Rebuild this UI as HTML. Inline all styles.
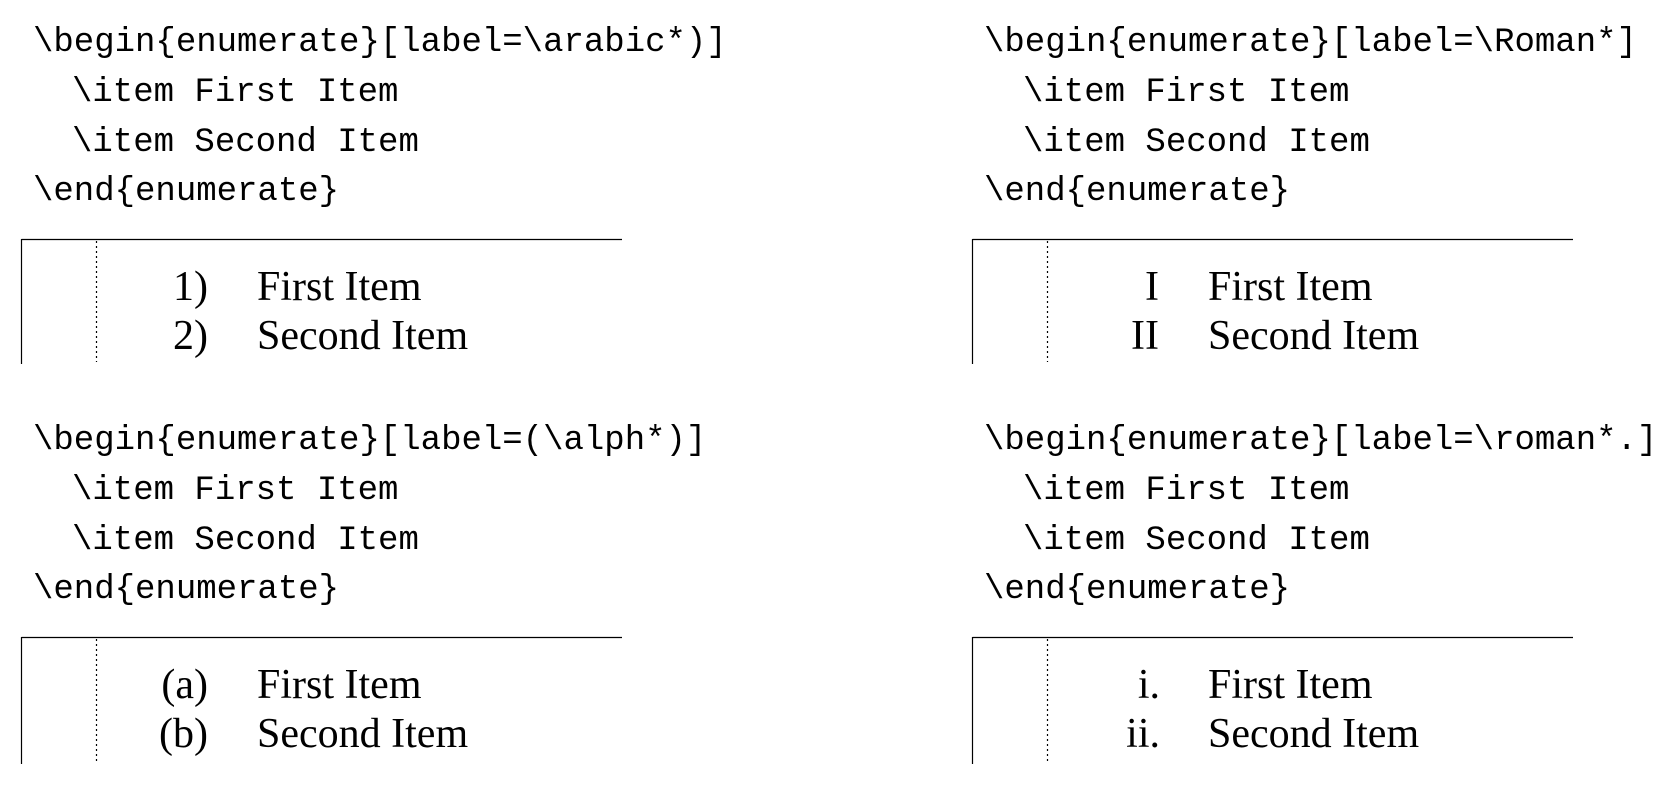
<!DOCTYPE html>
<html><head><meta charset="utf-8"><style>
html,body{margin:0;padding:0;background:#fff;width:1668px;height:788px;overflow:hidden}
svg{display:block}
.m{font-family:"Liberation Mono",monospace;font-size:34px;fill:#000}
.s{font-family:"Liberation Serif",serif;font-size:42px;fill:#000}
</style></head><body>
<svg width="1668" height="788" xmlns="http://www.w3.org/2000/svg">
<g id="q1">
<text class="m" x="33" y="51">\begin{enumerate}[label=\arabic*)]</text>
<text class="m" x="72" y="101">\item First Item</text>
<text class="m" x="72" y="151">\item Second Item</text>
<text class="m" x="33" y="200">\end{enumerate}</text>
<line x1="21.5" y1="239.5" x2="622" y2="239.5" stroke="#000" stroke-width="1.2"/>
<line x1="21.5" y1="239" x2="21.5" y2="364" stroke="#000" stroke-width="1.2"/>
<line x1="96.5" y1="241" x2="96.5" y2="362" stroke="#000" stroke-width="1.2" stroke-dasharray="2,3"/>
<text class="s" x="208" y="300" text-anchor="end">1)</text>
<text class="s" x="257" y="300">First Item</text>
<text class="s" x="208" y="349" text-anchor="end">2)</text>
<text class="s" x="257" y="349">Second Item</text>
</g>
<g transform="translate(951,0)">
<text class="m" x="33" y="51">\begin{enumerate}[label=\Roman*]</text>
<text class="m" x="72" y="101">\item First Item</text>
<text class="m" x="72" y="151">\item Second Item</text>
<text class="m" x="33" y="200">\end{enumerate}</text>
<line x1="21.5" y1="239.5" x2="622" y2="239.5" stroke="#000" stroke-width="1.2"/>
<line x1="21.5" y1="239" x2="21.5" y2="364" stroke="#000" stroke-width="1.2"/>
<line x1="96.5" y1="241" x2="96.5" y2="362" stroke="#000" stroke-width="1.2" stroke-dasharray="2,3"/>
<text class="s" x="208" y="300" text-anchor="end">I</text>
<text class="s" x="257" y="300">First Item</text>
<text class="s" x="208" y="349" text-anchor="end">II</text>
<text class="s" x="257" y="349">Second Item</text>
</g>
<g transform="translate(0,398)">
<text class="m" x="33" y="51">\begin{enumerate}[label=(\alph*)]</text>
<text class="m" x="72" y="101">\item First Item</text>
<text class="m" x="72" y="151">\item Second Item</text>
<text class="m" x="33" y="200">\end{enumerate}</text>
<line x1="21.5" y1="239.5" x2="622" y2="239.5" stroke="#000" stroke-width="1.2"/>
<line x1="21.5" y1="239" x2="21.5" y2="366" stroke="#000" stroke-width="1.2"/>
<line x1="96.5" y1="241" x2="96.5" y2="364" stroke="#000" stroke-width="1.2" stroke-dasharray="2,3"/>
<text class="s" x="208" y="300" text-anchor="end">(a)</text>
<text class="s" x="257" y="300">First Item</text>
<text class="s" x="208" y="349" text-anchor="end">(b)</text>
<text class="s" x="257" y="349">Second Item</text>
</g>
<g transform="translate(951,398)">
<text class="m" x="33" y="51">\begin{enumerate}[label=\roman*.]</text>
<text class="m" x="72" y="101">\item First Item</text>
<text class="m" x="72" y="151">\item Second Item</text>
<text class="m" x="33" y="200">\end{enumerate}</text>
<line x1="21.5" y1="239.5" x2="622" y2="239.5" stroke="#000" stroke-width="1.2"/>
<line x1="21.5" y1="239" x2="21.5" y2="366" stroke="#000" stroke-width="1.2"/>
<line x1="96.5" y1="241" x2="96.5" y2="364" stroke="#000" stroke-width="1.2" stroke-dasharray="2,3"/>
<text class="s" x="209" y="300" text-anchor="end">i.</text>
<text class="s" x="257" y="300">First Item</text>
<text class="s" x="209" y="349" text-anchor="end">ii.</text>
<text class="s" x="257" y="349">Second Item</text>
</g>
</svg>
</body></html>
